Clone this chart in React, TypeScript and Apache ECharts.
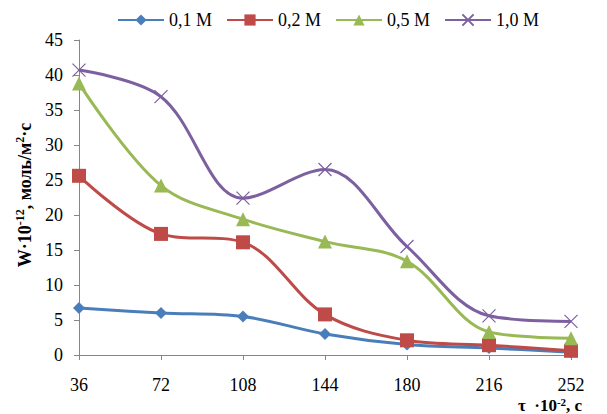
import React, { useEffect, useRef } from "react";
import * as echarts from "echarts";

const categories = ["36", "72", "108", "144", "180", "216", "252"];
const seriesNames = ["0,1 M", "0,2 M", "0,5 M", "1,0 M"];
const s01 = [6.7, 6.0, 5.5, 3.0, 1.5, 1.0, 0.4];
const s02 = [25.6, 17.3, 16.1, 5.8, 2.1, 1.4, 0.6];
const s05 = [38.8, 24.2, 19.4, 16.2, 13.4, 3.3, 2.4];
const s10 = [40.7, 36.9, 22.4, 26.5, 15.5, 5.6, 4.8];
const yTicks = [0, 5, 10, 15, 20, 25, 30, 35, 40, 45];

const colors = ["#4A7EBB", "#BE4B48", "#98B954", "#7D60A0"];
const symbols = [
  "diamond",
  "rect",
  "triangle",
  "path://M0,0L10,10M10,0L0,10",
];
const symbolSizes = [12, 14, 14, 13];

export default function App() {
  const ref = useRef<HTMLDivElement>(null);
  useEffect(() => {
    if (!ref.current) return;
    const chart = echarts.init(ref.current, undefined, { renderer: "svg" });
    const data = [s01, s02, s05, s10];
    const bold = { fontFamily: "Liberation Serif", fontWeight: "bold", color: "#000" };
    chart.setOption({
      animation: false,
      textStyle: { fontFamily: "Liberation Serif" },
      legend: {
        top: 6,
        left: 112,
        itemWidth: 46,
        itemHeight: 14,
        itemGap: 14,
        textStyle: { fontSize: 18, color: "#000", fontFamily: "Liberation Serif" },
        data: seriesNames,
      },
      grid: { left: 79, right: 36, top: 40, bottom: 59, containLabel: false },
      xAxis: {
        type: "category",
        data: categories,
        boundaryGap: false,
        axisLine: { lineStyle: { color: "#868686", width: 1 } },
        axisTick: { show: true, alignWithLabel: true, length: 5, lineStyle: { color: "#868686" } },
        axisLabel: { fontSize: 18, color: "#000", margin: 21, fontFamily: "Liberation Serif" },
        splitLine: { show: false },
      },
      yAxis: {
        type: "value",
        min: yTicks[0],
        max: yTicks[yTicks.length - 1],
        interval: 5,
        axisLine: { show: true, lineStyle: { color: "#868686", width: 1 } },
        axisTick: { show: true, length: 5, lineStyle: { color: "#868686" } },
        axisLabel: { fontSize: 18, color: "#000", margin: 16, fontFamily: "Liberation Serif" },
        splitLine: { show: false },
      },
      graphic: [
        {
          type: "text",
          x: 24,
          y: 195,
          rotation: Math.PI / 2,
          style: {
            text: "{a|W·10}{s|-12}{a|, моль/м}{s|2}{a|·с}",
            align: "center",
            verticalAlign: "middle",
            rich: {
              a: { ...bold, fontSize: 18, lineHeight: 20, verticalAlign: "bottom" },
              s: { ...bold, fontSize: 12, lineHeight: 20, verticalAlign: "top" },
            },
          },
        },
        {
          type: "text",
          x: 550,
          y: 405,
          style: {
            text: "{a|τ  ·10}{s|-2}{a|, с}",
            align: "center",
            verticalAlign: "middle",
            rich: {
              a: { ...bold, fontSize: 17, lineHeight: 18, verticalAlign: "bottom" },
              s: { ...bold, fontSize: 11, lineHeight: 18, verticalAlign: "top" },
            },
          },
        },
      ],
      series: seriesNames.map((name, i) => ({
        name,
        type: "line",
        data: data[i],
        smooth: 0.35,
        symbol: symbols[i],
        symbolSize: symbolSizes[i],
        lineStyle: { color: colors[i], width: 3 },
        itemStyle:
          i === 3
            ? { color: "transparent", borderColor: colors[i], borderWidth: 1.2 }
            : { color: colors[i], borderColor: colors[i], borderWidth: 0 },
        z: 2 + i,
      })),
    });
    return () => chart.dispose();
  }, []);
  return (
    <div
      ref={ref}
      style={{ position: "absolute", left: 0, top: 0, width: 607, height: 414 }}
    />
  );
}
